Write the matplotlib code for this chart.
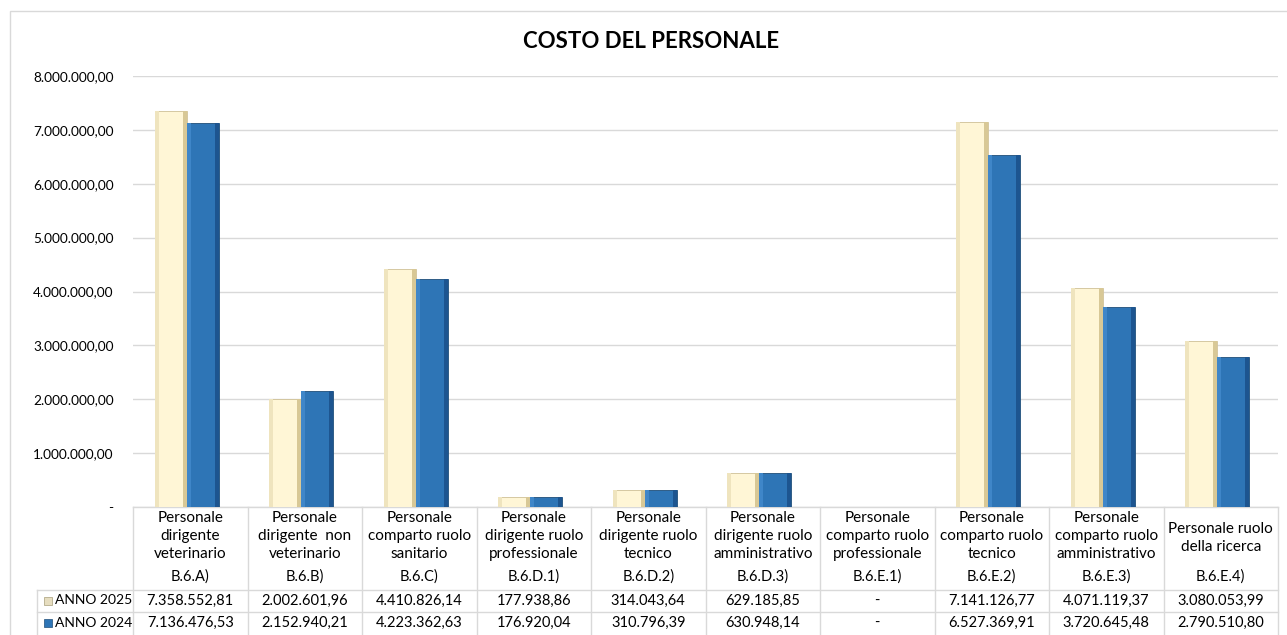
import numpy as np
import matplotlib
matplotlib.use('Agg')
import matplotlib.pyplot as plt
from matplotlib.transforms import blended_transform_factory
from matplotlib.patches import Rectangle

plt.rcParams['font.family'] = ['Lato', 'DejaVu Sans']

# data
categories = [
    'Personale\ndirigente\nveterinario',
    'Personale\ndirigente  non\nveterinario',
    'Personale\ncomparto ruolo\nsanitario',
    'Personale\ndirigente ruolo\nprofessionale',
    'Personale\ndirigente ruolo\ntecnico',
    'Personale\ndirigente ruolo\namministrativo',
    'Personale\ncomparto ruolo\nprofessionale',
    'Personale\ncomparto ruolo\ntecnico',
    'Personale\ncomparto ruolo\namministrativo',
    'Personale ruolo\ndella ricerca',
]
codes = ['B.6.A)', 'B.6.B)', 'B.6.C)', 'B.6.D.1)', 'B.6.D.2)', 'B.6.D.3)',
         'B.6.E.1)', 'B.6.E.2)', 'B.6.E.3)', 'B.6.E.4)']
anno_2025 = [7358552.81, 2002601.96, 4410826.14, 177938.86, 314043.64,
             629185.85, 0.0, 7141126.77, 4071119.37, 3080053.99]
anno_2024 = [7136476.53, 2152940.21, 4223362.63, 176920.04, 310796.39,
             630948.14, 0.0, 6527369.91, 3720645.48, 2790510.80]
series_names = ['ANNO 2025', 'ANNO 2024']


def it_fmt(v):
    if v == 0:
        return '-'
    s = f'{v:,.2f}'
    return s.replace(',', 'X').replace('.', ',').replace('X', '.')


W, H = 1287, 635
fig = plt.figure(figsize=(W / 100, H / 100), dpi=100)

def fx(x):
    return x / W

def fy(y):
    return 1 - y / H

# outer chart border
fig.add_artist(Rectangle((fx(10), fy(640)), fx(1290) - fx(10), fy(11) - fy(640),
                         transform=fig.transFigure, fill=False,
                         edgecolor='#D9D9D9', linewidth=1))

ax = fig.add_axes([fx(133), fy(507), fx(1278) - fx(133), fy(76) - fy(507)])
x = np.arange(len(categories))
bw = 0.28
off = -0.03

c25, c24 = '#FFF6D6', '#2E75B6'
ax.bar(x + off - bw / 2, anno_2025, bw, color=c25, edgecolor='#CFC096', linewidth=0.6, zorder=3)
ax.bar(x + off + bw / 2, anno_2024, bw, color=c24, edgecolor='#1F4E79', linewidth=0.6, zorder=3)

# bevel shading strips
sw = bw * 0.13
v25 = np.array(anno_2025)
v24 = np.array(anno_2024)
ax.bar(x + off - bw + sw / 2, v25, sw, color='#EFE4BE', linewidth=0, zorder=4)
ax.bar(x + off - sw / 2, v25, sw, color='#D8C896', linewidth=0, zorder=4)
ax.bar(x + off + sw / 2, v24, sw, color='#3F86C8', linewidth=0, zorder=4)
ax.bar(x + off + bw - sw / 2, v24, sw, color='#1D5590', linewidth=0, zorder=4)

ax.set_xlim(-0.5, len(categories) - 0.5)
ax.set_ylim(0, 8000000)
ax.set_yticks(np.arange(0, 8000001, 1000000))
ax.set_yticklabels([it_fmt(v) for v in np.arange(0, 8000001, 1000000)], fontsize=9.8)
ax.tick_params(axis='y', length=0, pad=14)
ax.set_xticks([])
ax.grid(axis='y', color='#D9D9D9', linewidth=1, zorder=0)
for s in ax.spines.values():
    s.set_visible(False)

fig.text(fx(651), fy(42), 'COSTO DEL PERSONALE', ha='center', va='center',
         fontsize=16, fontweight='bold')

# data table under the chart
tr = blended_transform_factory(ax.transData, fig.transFigure)
lc = '#D9D9D9'
edges = np.arange(len(categories) + 1) - 0.5
for e in edges:
    ax.plot([e, e], [fy(507), fy(640)], color=lc, lw=1, transform=tr, clip_on=False)
ax.plot([-0.5, 9.5], [fy(507), fy(507)], color=lc, lw=1, transform=tr, clip_on=False)
fig.add_artist(plt.Line2D([fx(37), fx(1278)], [fy(589.5), fy(589.5)], color=lc, lw=1))
fig.add_artist(plt.Line2D([fx(37), fx(1278)], [fy(611.5), fy(611.5)], color=lc, lw=1))
fig.add_artist(plt.Line2D([fx(37), fx(37)], [fy(589.5), fy(640)], color=lc, lw=1))

for i, (cat, code) in enumerate(zip(categories, codes)):
    ytop = 518 if cat.count('\n') == 2 else 529
    for j, line in enumerate(cat.split('\n')):
        ax.text(i, fy(ytop + j * 17.8), line, transform=tr, ha='center', va='center', fontsize=11)
    ax.text(i, fy(577), code, transform=tr, ha='center', va='center', fontsize=10.5)
    ax.text(i, fy(600.5), it_fmt(anno_2025[i]), transform=tr, ha='center', va='center', fontsize=10.5)
    ax.text(i, fy(623), it_fmt(anno_2024[i]), transform=tr, ha='center', va='center', fontsize=10.5)

# legend keys in table
for yy, name, col, ec in [(600.5, series_names[0], '#E6DDBF', '#A89E7A'),
                          (623, series_names[1], c24, '#1F4E79')]:
    fig.add_artist(Rectangle((fx(44), fy(yy + 4)), fx(52) - fx(44), fy(yy - 4) - fy(yy + 4),
                             transform=fig.transFigure, facecolor=col, edgecolor=ec, lw=0.5))
    fig.text(fx(55), fy(yy), name, ha='left', va='center', fontsize=10)

fig.savefig('out.png', dpi=100)
